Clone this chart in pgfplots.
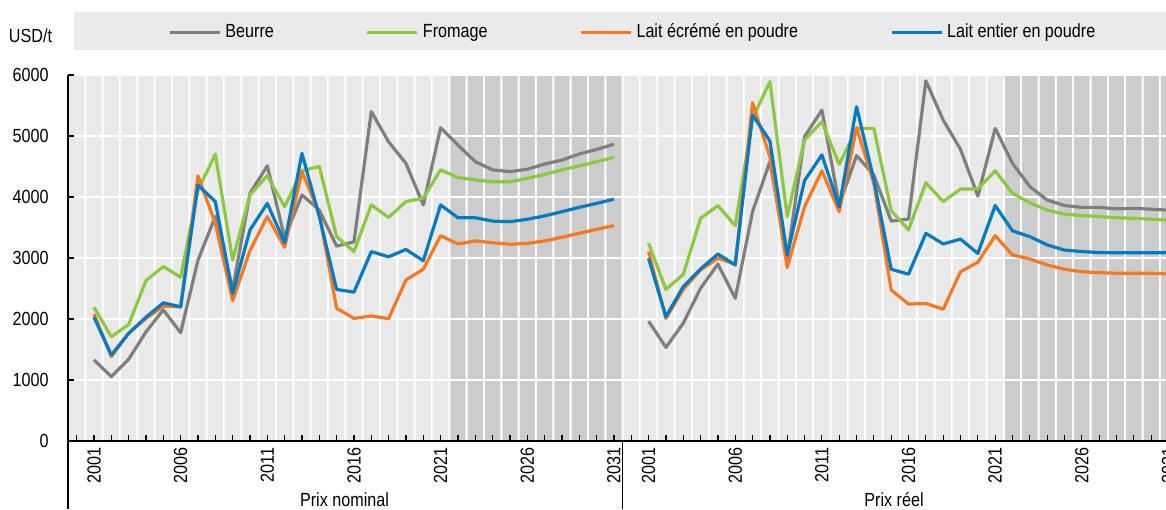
\documentclass[border=0pt]{standalone}
\usepackage{fontspec}
\setmainfont{Liberation Sans}[FakeStretch=0.85]
\usepackage{pgfplots}
\pgfplotsset{compat=1.18}
\usepackage{pgfplotstable}

\definecolor{cBeurre}{HTML}{7F7F7F}
\definecolor{cFromage}{HTML}{8CC841}
\definecolor{cEcreme}{HTML}{F47920}
\definecolor{cEntier}{HTML}{037BC1}
\definecolor{stripeL}{HTML}{E9E9E9}
\definecolor{stripeD}{HTML}{CCCCCC}
\definecolor{legbg}{HTML}{EAEAEA}

% Prix nominal: x = year - 2001
\pgfplotstableread{
x B F E W
0 1330 2190 2080 2030
1 1055 1710 1385 1410
2 1340 1910 1765 1765
3 1790 2630 2010 2030
4 2150 2860 2210 2265
5 1775 2685 2200 2200
6 2965 4115 4345 4195
7 3680 4700 3570 3925
8 2480 2965 2300 2420
9 4060 4035 3120 3460
10 4510 4350 3680 3895
11 3330 3840 3175 3250
12 4035 4430 4415 4715
13 3785 4500 3730 3680
14 3195 3350 2175 2485
15 3265 3105 2010 2440
16 5400 3870 2050 3105
17 4905 3665 2005 3020
18 4550 3925 2640 3140
19 3870 3980 2815 2955
20 5135 4445 3365 3870
21 4850 4320 3230 3660
22 4580 4280 3280 3660
23 4445 4250 3250 3605
24 4415 4250 3225 3595
25 4455 4305 3240 3635
26 4540 4370 3280 3690
27 4605 4445 3340 3760
28 4705 4510 3405 3830
29 4780 4580 3470 3895
30 4865 4650 3530 3965
}\nominal

% Prix reel: x = year - 2001 + 32
\pgfplotstableread{
x B F E W
32 1965 3240 3105 2995
33 1535 2485 2010 2040
34 1930 2730 2485 2530
35 2505 3650 2805 2820
36 2900 3860 2995 3065
37 2340 3530 2900 2885
38 3760 5290 5545 5345
39 4580 5890 4660 4920
40 3000 3680 2845 3050
41 4990 4935 3840 4270
42 5425 5235 4430 4690
43 3870 4535 3760 3840
44 4680 5125 5135 5480
45 4360 5125 4225 4280
46 3605 3775 2475 2815
47 3640 3460 2245 2735
48 5905 4235 2255 3405
49 5260 3925 2160 3230
50 4780 4130 2775 3310
51 4015 4130 2930 3075
52 5125 4430 3365 3860
53 4550 4060 3050 3445
54 4170 3905 2985 3350
55 3950 3785 2885 3215
56 3860 3720 2815 3130
57 3830 3695 2775 3105
58 3830 3680 2760 3090
59 3805 3660 2750 3085
60 3815 3650 2750 3085
61 3800 3635 2750 3085
62 3785 3620 2740 3085
}\reel

\begin{document}
\fontsize{9.5}{11.4}\selectfont
\begin{tikzpicture}
\fill[legbg] (3pt,195.5pt) rectangle (549pt,214.5pt);
\begin{axis}[
  set layers,
  at={(0pt,0pt)}, anchor=south west,
  scale only axis, width=550.25pt, height=183pt,
  xmin=-1.5, xmax=62, ymin=0, ymax=6000,
  axis x line*=bottom, axis y line*=left,
  axis line style={line width=0.75pt, black},
  tick align=inside,
  major tick length=3pt, minor tick length=3pt,
  every tick/.style={black, line width=0.6pt},
  xtick={0,5,10,15,20,25,30,32,37,42,47,52,57,62},
  xticklabels={2001,2006,2011,2016,2021,2026,2031,2001,2006,2011,2016,2021,2026,2031},
  minor xtick={-1,0,...,62},
  xticklabel style={rotate=90, anchor=east},
  ytick={0,1000,...,6000},
  yticklabel style={xshift=-6.3pt},
  /pgf/number format/assume math mode=true,
  /pgf/number format/1000 sep={},
  ymajorgrids, major grid style={white, line width=1pt},
  legend style={at={(axis description cs:0.0909,1.1175)}, anchor=west,
    draw=none, fill=none, inner sep=0pt, legend columns=4,
    /tikz/every even column/.append style={column sep=44pt}},
  legend image code/.code={\draw[#1, line width=1.5pt] (0pt,0pt) -- (25pt,0pt);},
]
\addplot[ybar, bar width=7.67pt, bar shift=0pt, fill=stripeL, draw=none, on layer=axis background, forget plot] coordinates {
(-1,6000) (0,6000) (1,6000) (2,6000) (3,6000) (4,6000) (5,6000) (6,6000) (7,6000) (8,6000) (9,6000) (10,6000)
(11,6000) (12,6000) (13,6000) (14,6000) (15,6000) (16,6000) (17,6000) (18,6000) (19,6000) (20,6000)
(31,6000) (32,6000) (33,6000) (34,6000) (35,6000) (36,6000) (37,6000) (38,6000) (39,6000) (40,6000) (41,6000)
(42,6000) (43,6000) (44,6000) (45,6000) (46,6000) (47,6000) (48,6000) (49,6000) (50,6000) (51,6000) (52,6000)};
\addplot[ybar, bar width=7.67pt, bar shift=0pt, fill=stripeD, draw=none, on layer=axis background, forget plot] coordinates {
(21,6000) (22,6000) (23,6000) (24,6000) (25,6000) (26,6000) (27,6000) (28,6000) (29,6000) (30,6000)
(53,6000) (54,6000) (55,6000) (56,6000) (57,6000) (58,6000) (59,6000) (60,6000) (61,6000) (62,6000)};

\addplot[cBeurre, line width=1.6pt, line join=round] table[x=x, y=B] {\nominal};
\addlegendentry{Beurre}
\addplot[cFromage, line width=1.6pt, line join=round] table[x=x, y=F] {\nominal};
\addlegendentry{Fromage}
\addplot[cEcreme, line width=1.6pt, line join=round] table[x=x, y=E] {\nominal};
\addlegendentry{Lait écrémé en poudre}
\addplot[cEntier, line width=1.6pt, line join=round] table[x=x, y=W] {\nominal};
\addlegendentry{Lait entier en poudre}

\addplot[cBeurre, line width=1.6pt, line join=round, forget plot] table[x=x, y=B] {\reel};
\addplot[cFromage, line width=1.6pt, line join=round, forget plot] table[x=x, y=F] {\reel};
\addplot[cEcreme, line width=1.6pt, line join=round, forget plot] table[x=x, y=E] {\reel};
\addplot[cEntier, line width=1.6pt, line join=round, forget plot] table[x=x, y=W] {\reel};
\end{axis}
\draw[line width=0.75pt] (0pt,183pt) -- (0pt,-34pt);
\draw[line width=0.75pt] (277.3pt,0pt) -- (277.3pt,-34pt);
\node at (-18.75pt,202.5pt) {USD/t};
\node at (138.25pt,-29.5pt) {Prix nominal};
\node at (413pt,-29.5pt) {Prix réel};
\pgfresetboundingbox
\path[use as bounding box] (-34pt,-34pt) rectangle (549pt,220.5pt);
\end{tikzpicture}
\end{document}
